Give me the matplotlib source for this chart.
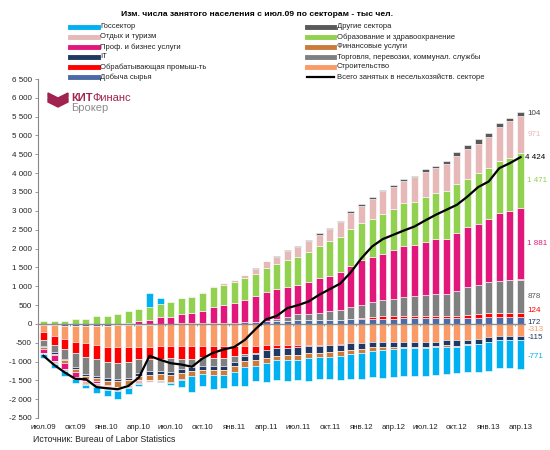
import matplotlib
matplotlib.use("Agg")
import matplotlib.pyplot as plt
import numpy as np
from matplotlib.lines import Line2D
from matplotlib.patches import Polygon
from matplotlib.ticker import FuncFormatter, MultipleLocator

plt.rcParams['font.family'] = ['Liberation Sans', 'DejaVu Sans']

### months jul.09 .. apr.13, change vs jul.09, thousands
months = ["июл.09", "", "", "окт.09", "", "", "янв.10", "", "", "апр.10", "", "",
          "июл.10", "", "", "окт.10", "", "", "янв.11", "", "", "апр.11", "", "",
          "июл.11", "", "", "окт.11", "", "", "янв.12", "", "", "апр.12", "", "",
          "июл.12", "", "", "окт.12", "", "", "янв.13", "", "", "апр.13"]

mining = [-30, -40, -50, -50, -50, -50, -45, -40, -35, -30, -20, -10, 0, 10, 15, 18, 20, 25, 30, 40, 50, 62, 70,
          80, 90, 100, 105, 110, 115, 125, 130, 135, 140, 140, 145, 150, 150, 155, 160, 160, 160, 165, 170, 170, 172, 172]
construction = [-200, -290, -350, -420, -450, -500, -557, -584, -584, -584, -584, -584, -584, -590, -600, -600, -600,
                -600, -600, -600, -580, -560, -560, -560, -560, -560, -560, -550, -540, -520, -500, -490, -490, -490,
                -490, -480, -480, -470, -442, -440, -416, -400, -350, -320, -315, -313]
manufacturing = [-200, -240, -270, -310, -370, -390, -400, -420, -400, -330, -330, -330, -330, -335, -336, -283, -300,
                 -310, -265, -195, -190, -133, -90, -70, -50, -40, -30, -20, -10, 5, 20, 44, 55, 55, 60, 60, 60, 55,
                 35, 53, 62, 88, 124, 124, 124, 124]
trade = [-160, -177, -257, -354, -469, -442, -442, -416, -416, -354, -330, -330, -354, -283, -212, -240, -230, -220,
         -150, -70, -18, 10, 50, 106, 159, 159, 177, 220, 265, 310, 354, 398, 425, 460, 513, 531, 558, 584, 602, 664,
         752, 770, 814, 841, 860, 878]
it = [-35, -53, -44, -62, -44, -53, -71, -60, -53, -80, -90, -90, -90, -90, -110, -90, -90, -90, -110, -130, -160,
      -220, -200, -195, -220, -177, -177, -177, -177, -177, -177, -133, -133, -133, -124, -124, -124, -124, -133, -140,
      -124, -124, -140, -106, -110, -115]
finance = [-44, -35, -71, -71, -80, -88, -106, -150, -142, -106, -140, -150, -177, -177, -133, -130, -140, -150, -160,
           -150, -160, -133, -106, -133, -133, -133, -106, -124, -115, -106, -88, -88, -62, -44, -27, -27, -27, -27,
           -44, -27, -27, -10, 5, 10, 15, 22]
prof = [-115, -160, -150, -133, -60, -40, -30, -20, 30, 62, 106, 177, 177, 248, 274, 327, 416, 487, 513, 602, 690, 780,
        796, 800, 770, 840, 938, 947, 991, 1100, 1180, 1195, 1239, 1300, 1345, 1354, 1416, 1451, 1460, 1531, 1593,
        1620, 1664, 1788, 1814, 1881]
education = [70, 88, 88, 116, 124, 195, 221, 248, 319, 327, 336, 354, 398, 416, 425, 469, 540, 531, 566, 566, 593, 630,
             681, 708, 752, 796, 858, 929, 929, 973, 990, 1018, 1062, 1106, 1133, 1150, 1195, 1221, 1265, 1301, 1283,
             1372, 1354, 1398, 1425, 1471]
leisure = [-20, -44, -53, -50, -71, -80, -71, -60, -53, -88, -40, -30, -20, 10, 27, 35, 18, 44, 44, 88, 133, 177, 177,
           248, 265, 310, 292, 310, 398, 442, 460, 531, 602, 575, 602, 646, 664, 681, 726, 752, 797, 770, 841, 885,
           965, 971]
other = [-10, -15, -20, -25, -25, -30, -30, -30, -25, -20, -15, -15, -10, -5, 0, 5, 5, 10, 10, 10, 15, 15, 20, 20, 25,
         25, 30, 30, 35, 40, 50, 55, 35, 44, 35, 35, 62, 53, 62, 88, 88, 115, 106, 115, 88, 104]
government = [-88, -106, -133, -106, -88, -160, -177, -221, -159, -60, 389, 159, -50, -210, -420, -320, -370, -340,
              -370, -500, -416, -490, -530, -560, -530, -620, -600, -600, -640, -670, -710, -710, -750, -750, -750,
              -750, -750, -740, -700, -700, -700, -750, -750, -750, -760, -771]
total = [-850, -1090, -1290, -1460, -1470, -1680, -1710, -1735, -1650, -1425, -850, -955, -1045, -1080, -1140, -920,
         -770, -680, -615, -425, -140, 120, 210, 416, 495, 592, 770, 920, 1070, 1370, 1745, 2053, 2249, 2363, 2478,
         2584, 2743, 2894, 3027, 3160, 3380, 3629, 3779, 4133, 4266, 4424]

# stacking order as in the excel source
series = [
    ("Добыча сырья", mining, "#4A6BA5"),
    ("Строительство", construction, "#FA9A67"),
    ("Обрабатывающая промыш-ть", manufacturing, "#FF0000"),
    ("Торговля, перевозки, коммунал. службы", trade, "#808080"),
    ("IT", it, "#1F3864"),
    ("Финансовые услуги", finance, "#CC7A39"),
    ("Проф. и бизнес услуги", prof, "#E2177B"),
    ("Образование и здравоохранение", education, "#92D050"),
    ("Отдых и туризм", leisure, "#E6B9B8"),
    ("Другие сектора", other, "#595959"),
    ("Госсектор", government, "#00B0F0"),
]
colors = {name: c for name, v, c in series}
data = {name: v for name, v, c in series}

fig = plt.figure(figsize=(5.5, 4.5), dpi=100)
ax = fig.add_axes([38.2 / 550, 32 / 450, (525.8 - 38.2) / 550, (418 - 79) / 450])

x = np.arange(len(months))
pos = np.zeros(len(x))
neg = np.zeros(len(x))
last_mid = {}
for name, vals, c in series:
    v = np.array(vals, dtype=float)
    bottom = np.where(v >= 0, pos, neg)
    ax.bar(x, v, bottom=bottom, width=0.66, color=c, edgecolor="white", linewidth=0.4, zorder=2)
    last_mid[name] = bottom[-1] + v[-1] / 2
    pos = np.where(v >= 0, pos + v, pos)
    neg = np.where(v < 0, neg + v, neg)

ax.plot(x, total, color="black", lw=1.6, zorder=4)

ax.axhline(0, color="#8C8C8C", lw=1, zorder=3)
ax.vlines(np.arange(-0.5, len(x), 3), -60, 0, color="#8C8C8C", lw=0.6, zorder=3)

ax.set_xlim(-0.5, len(x) - 0.5)
ax.set_ylim(-2500, 6500)
ax.yaxis.set_major_locator(MultipleLocator(500))
ax.yaxis.set_major_formatter(FuncFormatter(lambda v, p: f"{int(v):,}".replace(",", " ")))
ax.set_xticks(x[::3])
ax.set_xticklabels(months[::3])
ax.tick_params(axis="x", length=0, pad=4, labelsize=5.7, colors="#222222")
ax.tick_params(axis="y", length=2.5, width=0.6, pad=2, labelsize=5.8, colors="#222222")
ax.tick_params(axis="y", color="#868686")
for s in ["top", "right", "bottom"]:
    ax.spines[s].set_visible(False)
ax.spines["left"].set_color("#868686")
ax.spines["left"].set_linewidth(0.8)

# value labels at the last bar (small nudges so they don't collide)
fmt = lambda v: f"{int(v):,}".replace(",", " ")
lab = [("Другие сектора", "#404040", 0), ("Отдых и туризм", "#E6B9B8", 0),
       ("Образование и здравоохранение", "#92D050", 0), ("Проф. и бизнес услуги", "#E2177B", 0),
       ("Торговля, перевозки, коммунал. службы", "#595959", 0), ("Обрабатывающая промыш-ть", "#FF0000", 120),
       ("Добыча сырья", "#1F3864", -40), ("Строительство", "#FA9A67", 0),
       ("IT", "#1F3864", 0), ("Госсектор", "#00B0F0", -60)]
for name, c, dy in lab:
    ax.text(len(x) - 0.35, last_mid[name] + dy, fmt(data[name][-1]), color=c, fontsize=5.8, va="center",
            ha="left", clip_on=False)
ax.text(len(x) - 0.6, total[-1], fmt(total[-1]), color="black", fontsize=5.8, va="center", ha="left",
        clip_on=False)

# title, legend, source
def fx(px):
    return px / 550

def fy(py):
    return 1 - py / 450

fig.text(fx(257), fy(15), "Изм. числа занятого населения с июл.09 по секторам - тыс чел.", fontsize=6.1,
         fontweight="bold", ha="center", va="center")

left_col = ["Госсектор", "Отдых и туризм", "Проф. и бизнес услуги", "IT", "Обрабатывающая промыш-ть", "Добыча сырья"]
right_col = ["Другие сектора", "Образование и здравоохранение", "Финансовые услуги",
             "Торговля, перевозки, коммунал. службы", "Строительство"]
for i, name in enumerate(left_col):
    y = 27 + 10 * i
    fig.add_artist(Line2D([fx(70), fx(98)], [fy(y), fy(y)], lw=3.5, color=colors[name]))
    fig.text(fx(100), fy(y), name, fontsize=5.5, va="center", ha="left", color="#222222")
for i, name in enumerate(right_col):
    y = 27 + 10 * i
    fig.add_artist(Line2D([fx(307), fx(334)], [fy(y), fy(y)], lw=3.5, color=colors[name]))
    fig.text(fx(337), fy(y), name, fontsize=5.5, va="center", ha="left", color="#222222")
fig.add_artist(Line2D([fx(307), fx(334)], [fy(77), fy(77)], lw=1.6, color="black"))
fig.text(fx(337), fy(77), "Всего занятых в несельхозяйств. секторе", fontsize=5.5, va="center", ha="left",
         color="#222222")

fig.text(fx(33), fy(440), "Источник: Bureau of Labor Statistics", fontsize=6.3, va="center", ha="left",
         color="#222222")

# logo
logo = "#A0224F"
for dy in [0, 5]:
    pts = [(48, 93 + dy), (58, 98 + dy), (68, 93 + dy), (68, 97 + dy), (58, 102 + dy), (48, 97 + dy)]
    fig.add_artist(Polygon([(fx(a), fy(b)) for a, b in pts], closed=True, color=logo))
kit = fig.text(fx(71), fy(98), "КИТ", fontsize=8, fontweight="bold", color=logo, va="center", ha="left")
fig.canvas.draw()
bb = kit.get_window_extent(fig.canvas.get_renderer())
fig.text(bb.x1 / fig.bbox.width, fy(98), "Финанс", fontsize=8, color=logo, va="center", ha="left")
fig.text(fx(71), fy(108), "Брокер", fontsize=8, color="#8C8C8C", va="center", ha="left")

fig.savefig("out.png", dpi=100)
